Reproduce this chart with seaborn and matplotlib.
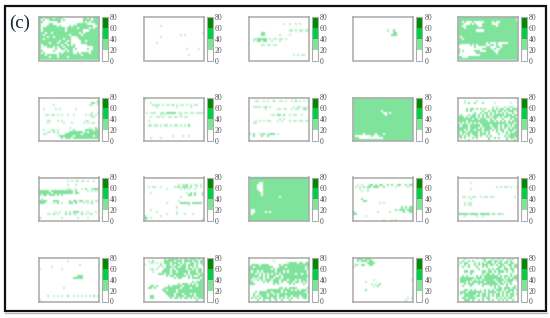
import numpy as np
import matplotlib
matplotlib.use("Agg")
import matplotlib.pyplot as plt
from matplotlib.colors import ListedColormap
from matplotlib.patches import Rectangle
import seaborn as sns

# '.' = below 20, 'o' = thin scattered cells of the 20-40 class, '#' = 20-40 class
BOUNDS = [0, 20, 40, 60, 80]
COLORS = ["#ffffff", "#80e39c", "#00d03f", "#008a00"]
PANEL_LABEL = "(c)"

p11 = ["##.####.####..........##.#.###","#.#..######.#.........####.###","##.......##...........#.#.####","#....##............#####....##",
"#...#####.#....#.##########..#","#.###########.#####.#####.#.##","#.###########.########...#####","###.##.#############.#.#######",
"##.############.#####.########","####.##.########...###########","##.#########.###....##########","##########.###.#.....##.######",
"#####.###.###.##.....#########","#.#########.##.#.#......######","#...###.#.##.#####.........###","#.......#..##.###.#.....#..###",
"##.....#.....#.##.........####","#.#.......#.#####..#.####.####","###.#####.###########.########","#####.###.####.###############","##############################"]
p12 = ["","","","","........o","","",".............................o","..................o.o",
"........o","","","......o","","",".....................o.....o","","","......................o","",""]
p13 = ["","","",".................o..o..o.o","","","....................oo.o.oo.oo.","......##","......##.......o....o","........",
"..oo#####.o.oo.oo.o","..o.##.##..o...o","","......oo.oo.oo","","","","","......................o.o.oo","",""]
p14 = ["","","","","","",".................o..#","....................##","...................###","","","","","","","","","","","",""]
p15 = ["##############################","#############################.","##.#...#.....####.#..#########","###...#.#...#####...##########","##..######..#######.##########",
"###.##########################","#########....#################","##############################","##############################","#.############################","##.###########################","##############################",
"##############.#...#.....#####","#.....#.#.####..##.#..########","........#.....##...##.########","#...........#####.#..#########","#.#.....###...####..##########","#........##########.##########","...........###################","##...#########################","##############################"]
p21 = ["",".............................#","..........................##.#",".......o.................oo..o","","..o.....o.o.......o..........","","..........................o..o",
"...oo.oo.o.o..o..o.....o.oo.o","..........................oo","","....oo...o.o...........oo","....o.......o...o.....o.o.oo","","...............o.........o..#","..o...oo.o.......#.....####.##","....oo.#.o.....#######.#.#####","..oo.....o...########.########","..........#######.#########.##","...........#.###.#############",""]
p22 = ["#","","...o","....oooo.o.oo.#.o.oo.o.o.oo","......o.........o......o","","",".o.ooo..o#.#####.oo.oo.oo.oooo","........o.o.......o","...o..oo.o..oo.oo.o.oo","","..o","","..oo.oo.o.oo.o.oo.o.o.#","","","","","..............o....o..o","...o....o","",""]
p23 = ["","...oo..o.o..#..oo.o..o.#.o.o.o","","","..oooo.o#.o...........o.oo.o.o","........o.....oo.oo..o.oo..##","","","...........oo.##.#..o.oo..o","","...............o.o",
"...o.o.o.oo...o.o...o.oo.oo.oo","..oo","","","..","","#.#..oo#.o###.o","..#...#..#","",""]
p24 = ["##############################","##############################","##############################","##############################","##############################","##############################","##############.###############","###############..#.###########","################.#############",
"##############################","##############################","##############################","##############################","##############################","##############################","##############################","##############################",
"#####.#####.###.##############","#........#...#################","###............###############","##############################"]
p25 = ["","...o.....o","...o.#..#...#.....o.......o","",".................o.o...o.ooo..","....#.##.#.#.#...#.#.##.##.###","....#.#.....#..#.##.##.#.###.#","........#..#.##.#.#.#.#.#..#..",".#...#.##.#.#.#.#.#####.###.##",
"###.#.###.#.#.##.###.#.##.###.","#######.##.###..#.#...#...#.##","####.##########.##.#.#.#.#.###",".#.#.#.#.#.#############.###.#","#.###.#####.####.###.#.##.#.##","#####.####.#.####.##.#.#.#.###","###.#.##.###.###.#.#.##..###.#","#.##.#####.#.#.#...#..#.#.#.##","#.#.##.###.###.#....#...#.####","##.#.#..##.#..#.#......#.#####",".#.#...#.#.....#..#.#...#.##.#",".....#.........#........#...#."]
p31 = ["","..............o.o.oo.oo.o..o","","..............o...o","","..............oo..o..o.#..o###","#####.###########.#.....o.o.o","######.##########.##","#.##.###.#.#...","",".o","####...###.....#.##.##.oo.o.oo","###....o.#.o...##.#...o.o.#","","","...","........o.o..o.o.###.o..o...o","....oo.#.o...#.#.oo..#.o.oo",".","#..........o.......o....o",""]
p32 = ["","","",".................o.oo#.o.oo.o.##","..o.oo..o......oo#.###.#..o.o","...........o......o.o.o..o","","...o.................o.#.#...###","......................##.#...#","..................o","",".................o",
"...........o......#####.#####.#","......................o...","................o","...o..........................","......o.........o...........","...........o....o...o...o","#.......o","##.o","#............................#"]
p33 = ["##############################","##############################","#####..#######################","####...#######################","####...#######################","####...#######################","#####..#######################","######.#######################",
"######.#######################","###############.##############","##############################","##############################","##############################","##############################","##############################","#..###########################","#..#####.#.###################","#.############################","##############################","##############################","##############################"]
p34 = ["","","","..o.o...##.#.##..#.#..##..#.##",".o.o.#.##.###..#.....o.....o","...o...o..","....o..o...","","",".","....#.....",".....##",".............o.o",
"","........................#.#.###",".....................#.###.###","#...........o.....o......#..##","##...............","......o.........","...........................","...............o...o.o"]
p35 = ["","","......o","","...................o.o.oo.o..o","......o.......................","","","","..oo.o.oo..o.oo.oo..........o.o","......o","",
"...o.oo","...o.oo","","","","#####o####.#####.#o.#oo","...o.....o..o","",""]
p41 = ["","..............o","","....................o","......o","o..........o","","","...................###",
".................#####","","","","..................","............o","","..........................","..............................","....o..o.o.o..#..o.o.o.o.o.#.o","","o"]
p42 = ["..........#.#####.#.##.###.#.#","..o.#.....#####.###.####.##.##","...oo.o.o.###.###.#.#..##.#.##","o.......#..##.#.##.##.###.#..#",".......o.o.###.##.###.#.#.#...","...oo.o...###.#.#####.##.#.##.","....o....####.##.#####.###.##.",".......###.##.######.#.####.##",
"...........#.##.#####.#.#..###","...............#.##...#.####.#","............................##","........................#.####",".................#.###.#.#.###","...##.#.....#.#####.######.###","..##.#....########.####.######",".........##.####.#############",
"..........######.#############","...........####.###.###.#.####","...##.......###.####.####.####","...##........#.##.#.##.#.#.###","..........................#..."]
p43 = ["","............o","...................o####.##.##",".####.####.....#.#############","##.#########...###.#########.#","###########.#.##############.#","#.##.#.######.###.#.#########","###.#.#.#.#.###.#######.##.##.",
"#####.#.#.###..#.#############","##.#.##.#.##.###.############.","#.o.#.#.###.###.###.###.#.###.","##.....#.#..###.#..###.##.#.#.","###.........#.#.....#.#....#..","..............................","...............##.#.####.....#",".........#######.####.#.#.###",
"...#.######.####.#.#########.#","..#..####.##.#.##############","..#.#.###.####.###.##.###.###",".#.#.#.####.##.#.#.#.#..#..##","....#..#..#..#..#...#........"]
p44 = ["..###.###","..#.###.##",".......####",".#o.##..##","o","","","","","......................",
"..........o..................o","......o........",".........o.o.#.","..........o.#","","......#","...","",".............................","...........................o.o","..........................o"]
p45 = ["...#.....o..##...#..#.#..#.#..","o.#..#.#.....#.##.##.#..#.#...",".#.##...#.#.#.###.#.##.##.##..","o..#.#..#.#.###.##.#.##..##.##","..#..#...#..#.#.....##.#..#.##","..........#....#.#.##..##.##..","...##.##....##.##.#.###.#..#..","......#.....#.##.#..#.....#...",
"..#.#....#.#.#######.#.##.#.##",".#######.###.#########.#.#.###",".######.#.#.######.####.####.#",".###.#.######.#####.##.#.##...","...#.###..#.########.##.#.#...","..#...#.....#...#.#.#...#...#.","..................#.##.###.##.","...##.#.#..o.#.#.#.###.#.###.#",
".###.#######.#.####.#.#.##.#..",".#.######.#.##.#.#.##.#.#.##.#","...#####.##.##.#.#.##.#.#.##..","..##.####...#.##...#.#.#.##...","...###.#..#.#..#.#..#.#.#..#.."]

PANELS = [p11, p12, p13, p14, p15, p21, p22, p23, p24, p25,
          p31, p32, p33, p34, p35, p41, p42, p43, p44, p45]
VALUE = {"#": 30.0, "o": 30.0, ".": 0.0}

def grid(rows):
    rows = list(rows)[:21] + [""] * max(0, 21 - len(rows))
    return [r.ljust(30, ".")[:30] for r in rows]

def soften(img, dpi):
    pad = 2
    a = np.pad(img, ((pad, pad), (pad, pad), (0, 0)), mode="constant")
    a[..., :3] *= a[..., 3:]
    k = np.array([0.22, 0.56, 0.22])
    for axis in (0, 1):
        a = np.apply_along_axis(lambda v: np.convolve(v, k, mode="same"), axis, a)
    rgb = a[..., :3] / np.maximum(a[..., 3:], 1e-4)
    a[..., :3] = np.clip(rgb, 0, 1)
    return a, -pad, -pad

W, H = 550, 318
sns.set_theme(style="white", rc={"font.family": ["Liberation Serif", "DejaVu Serif"]})
fig = plt.figure(figsize=(W / 100, H / 100), dpi=100, facecolor="white")
cmap = ListedColormap(COLORS)

def axes_px(x0, y0, x1, y1):
    return fig.add_axes([x0 / W, 1 - y1 / H, (x1 - x0) / W, (y1 - y0) / H])

xs = [38.5, 143.5, 248.5, 352.8, 457.5]
ys = [17, 97.5, 177.5, 258]
pw, ph = 60, 43.5
for i, rows in enumerate(PANELS):
    x0, y0 = xs[i % 5], ys[i // 5]
    g = grid(rows)
    solid = np.array([[VALUE[c] if c != "o" else 0.0 for c in r] for r in g])
    faint = np.array([[VALUE[c] if c == "o" else 0.0 for c in r] for r in g])
    ax = axes_px(x0, y0, x0 + pw, y0 + ph)
    cax = axes_px(x0 + 63.5, y0, x0 + 69.5, y0 + ph)
    sns.heatmap(solid, ax=ax, cmap=cmap, vmin=0, vmax=80, cbar_ax=cax, xticklabels=False,
                yticklabels=False, linewidths=0, cbar_kws={"ticks": BOUNDS})
    ax.collections[0].set_agg_filter(soften)
    if (faint > 0).any():
        sns.heatmap(faint, ax=ax, cmap=cmap, vmin=0, vmax=80, cbar=False, xticklabels=False,
                    yticklabels=False, linewidths=0, alpha=0.55, mask=faint == 0)
        ax.collections[1].set_agg_filter(soften)
    for s in ax.spines.values():
        s.set_visible(True); s.set_color("#a8a8a8"); s.set_linewidth(1.1); s.set_zorder(5)
    cax.tick_params(length=0, pad=1.5, labelsize=5.6, labelcolor="#555555")
    cb = ax.collections[0].colorbar
    cb.outline.set_visible(True); cb.outline.set_edgecolor("#ababab"); cb.outline.set_linewidth(0.8)

fig.add_artist(Rectangle((5 / W, 1 - 310.5 / H), 540.5 / W, 304.5 / H, transform=fig.transFigure,
                         fill=False, edgecolor="#111111", linewidth=1.6))
fig.add_artist(plt.Line2D([5 / W, 547 / W], [1 - 312.5 / H] * 2, color="#b8b8b8", linewidth=1))
fig.text(9.5 / W, 1 - 28 / H, PANEL_LABEL, fontsize=13.5, color="#10202c", family="Liberation Serif", va="baseline")
fig.savefig("out.png", dpi=100, facecolor="white")
